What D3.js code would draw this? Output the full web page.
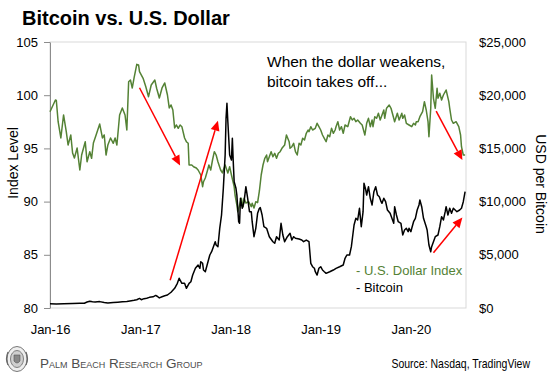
<!DOCTYPE html>
<html lang="en">
<head>
<meta charset="UTF-8">
<title>Bitcoin vs. U.S. Dollar</title>
<style>
    html, body { margin: 0; background: #fff; overflow: hidden; }
    svg { display: block; }
    text { font-family: "Liberation Sans", Arial, sans-serif; }
</style>
<script src="https://d3js.org/d3.v7.min.js"></script>
</head>
<body>
<svg id="svg"></svg>
<script>
// U.S. Dollar Index (decimal year, index level)
const dxyYears = [
    2016.00, 2016.06, 2016.07, 2016.09, 2016.12, 2016.15, 2016.18, 2016.20, 2016.23, 2016.25, 2016.27, 2016.30,
    2016.33, 2016.35, 2016.39, 2016.41, 2016.44, 2016.46, 2016.48, 2016.51, 2016.55, 2016.58, 2016.60, 2016.62,
    2016.64, 2016.67, 2016.70, 2016.72, 2016.74, 2016.77, 2016.80, 2016.83, 2016.85, 2016.87, 2016.89, 2016.91,
    2016.93, 2016.96, 2016.98, 2016.99, 2017.03, 2017.06, 2017.09, 2017.12, 2017.16, 2017.18, 2017.21, 2017.24,
    2017.27, 2017.30, 2017.32, 2017.34, 2017.36, 2017.38, 2017.40, 2017.42, 2017.44, 2017.46, 2017.49, 2017.51,
    2017.53, 2017.54, 2017.57, 2017.59, 2017.62, 2017.64, 2017.67, 2017.69, 2017.70, 2017.72, 2017.74, 2017.76,
    2017.78, 2017.80, 2017.82, 2017.84, 2017.86, 2017.89, 2017.91, 2017.92, 2017.94, 2017.97, 2017.99, 2018.01,
    2018.04, 2018.05, 2018.07, 2018.08, 2018.10, 2018.12, 2018.14, 2018.15, 2018.17, 2018.20, 2018.23, 2018.24,
    2018.26, 2018.28, 2018.30, 2018.32, 2018.34, 2018.36, 2018.38, 2018.40, 2018.41, 2018.43, 2018.45, 2018.47,
    2018.49, 2018.51, 2018.53, 2018.55, 2018.57, 2018.60, 2018.62, 2018.65, 2018.66, 2018.68, 2018.70, 2018.72,
    2018.74, 2018.76, 2018.78, 2018.80, 2018.82, 2018.84, 2018.86, 2018.87, 2018.89, 2018.91, 2018.94, 2018.96,
    2018.98, 2019.00, 2019.02, 2019.04, 2019.06, 2019.08, 2019.10, 2019.12, 2019.14, 2019.16, 2019.17, 2019.19,
    2019.21, 2019.23, 2019.25, 2019.27, 2019.30, 2019.33, 2019.35, 2019.37, 2019.39, 2019.41, 2019.44, 2019.46,
    2019.48, 2019.49, 2019.51, 2019.53, 2019.55, 2019.57, 2019.58, 2019.60, 2019.62, 2019.64, 2019.66, 2019.68,
    2019.70, 2019.71, 2019.73, 2019.76, 2019.78, 2019.81, 2019.82, 2019.85, 2019.87, 2019.90, 2019.91, 2019.93,
    2019.95, 2019.98, 2020.01, 2020.03, 2020.05, 2020.06, 2020.08, 2020.10, 2020.13, 2020.15, 2020.17, 2020.19,
    2020.20, 2020.22, 2020.23, 2020.25, 2020.27, 2020.29, 2020.30, 2020.32, 2020.34, 2020.36, 2020.39, 2020.42,
    2020.43, 2020.45, 2020.47, 2020.50, 2020.53, 2020.55, 2020.56, 2020.58, 2020.60
];
const dxyValues = [
    98.45, 99.55, 99.50, 97.51, 95.98, 98.14, 96.57, 95.32, 96.26, 94.57, 94.10, 95.04,
    92.97, 94.38, 95.63, 93.75, 94.69, 94.07, 95.51, 96.26, 97.29, 95.98, 96.26, 94.38,
    95.32, 95.98, 95.48, 95.98, 95.32, 98.14, 98.80, 98.14, 96.73, 101.27, 101.43, 100.68,
    101.62, 102.90, 102.84, 102.21, 101.59, 100.80, 99.86, 100.96, 101.43, 100.65, 99.74, 100.68,
    101.15, 100.02, 98.80, 99.08, 98.61, 96.92, 97.20, 96.89, 97.20, 97.04, 95.98, 95.63,
    95.48, 93.44, 93.44, 93.28, 93.16, 92.97, 92.50, 91.40, 91.87, 92.22, 92.81, 93.44,
    92.97, 93.91, 94.69, 94.38, 93.75, 92.97, 92.69, 92.97, 93.44, 92.69, 93.28, 92.50,
    91.40, 90.62, 89.68, 89.05, 89.68, 90.31, 89.52, 90.31, 89.87, 89.99, 89.52, 89.84,
    89.40, 89.99, 89.90, 91.00, 92.50, 93.44, 94.07, 94.38, 93.75, 94.22, 94.69, 94.22,
    94.54, 94.07, 94.54, 94.69, 95.01, 95.32, 96.26, 95.63, 95.01, 95.16, 95.48, 94.69,
    94.38, 95.48, 95.32, 95.95, 95.79, 96.42, 96.73, 96.57, 97.04, 96.73, 96.89, 97.36,
    97.04, 96.73, 96.26, 95.95, 95.63, 96.26, 96.10, 96.89, 96.42, 96.73, 97.04, 97.51,
    96.73, 97.04, 96.42, 97.20, 97.04, 97.98, 97.67, 97.83, 97.51, 97.67, 97.36, 97.20,
    96.57, 96.26, 97.36, 97.83, 97.04, 97.67, 97.04, 97.98, 97.83, 98.30, 97.67, 98.14,
    98.61, 97.83, 98.77, 99.08, 98.77, 97.83, 97.51, 98.30, 97.67, 98.30, 97.83, 98.14,
    97.36, 97.20, 97.04, 97.36, 97.20, 97.51, 97.51, 97.98, 98.45, 99.39, 98.61, 97.51,
    96.10, 98.77, 101.90, 99.71, 98.77, 100.65, 99.71, 100.18, 99.55, 100.02, 100.49, 99.39,
    98.77, 97.67, 97.36, 97.51, 97.04, 96.26, 95.16, 94.38, 94.38
];

// Bitcoin price in USD (decimal year, price)
const btcYears = [
    2016.00, 2016.07, 2016.15, 2016.25, 2016.33, 2016.38, 2016.41, 2016.44, 2016.47, 2016.50, 2016.55, 2016.60,
    2016.64, 2016.70, 2016.75, 2016.80, 2016.85, 2016.90, 2016.93, 2016.96, 2016.99, 2017.01, 2017.04, 2017.07,
    2017.10, 2017.14, 2017.17, 2017.19, 2017.21, 2017.24, 2017.27, 2017.30, 2017.34, 2017.38, 2017.41, 2017.43,
    2017.46, 2017.49, 2017.51, 2017.54, 2017.56, 2017.58, 2017.61, 2017.64, 2017.66, 2017.67, 2017.69, 2017.70,
    2017.72, 2017.74, 2017.77, 2017.79, 2017.81, 2017.83, 2017.84, 2017.86, 2017.88, 2017.90, 2017.92, 2017.94,
    2017.95, 2017.96, 2017.97, 2017.99, 2018.01, 2018.02, 2018.03, 2018.04, 2018.06, 2018.07, 2018.09, 2018.10,
    2018.11, 2018.13, 2018.15, 2018.17, 2018.19, 2018.21, 2018.23, 2018.24, 2018.26, 2018.28, 2018.30, 2018.32,
    2018.33, 2018.35, 2018.37, 2018.40, 2018.43, 2018.47, 2018.49, 2018.51, 2018.54, 2018.56, 2018.58, 2018.60,
    2018.63, 2018.66, 2018.68, 2018.70, 2018.72, 2018.76, 2018.79, 2018.81, 2018.84, 2018.87, 2018.89, 2018.91,
    2018.93, 2018.94, 2018.96, 2018.98, 2019.00, 2019.02, 2019.04, 2019.06, 2019.10, 2019.14, 2019.17, 2019.21,
    2019.25, 2019.27, 2019.29, 2019.32, 2019.34, 2019.37, 2019.39, 2019.41, 2019.43, 2019.45, 2019.47, 2019.48,
    2019.50, 2019.51, 2019.53, 2019.55, 2019.57, 2019.59, 2019.61, 2019.63, 2019.65, 2019.67, 2019.68, 2019.70,
    2019.72, 2019.74, 2019.77, 2019.81, 2019.82, 2019.84, 2019.86, 2019.89, 2019.91, 2019.93, 2019.95, 2019.97,
    2019.98, 2020.00, 2020.01, 2020.03, 2020.05, 2020.07, 2020.09, 2020.10, 2020.12, 2020.14, 2020.17, 2020.18,
    2020.20, 2020.22, 2020.23, 2020.25, 2020.27, 2020.30, 2020.32, 2020.34, 2020.36, 2020.38, 2020.39, 2020.41,
    2020.43, 2020.45, 2020.47, 2020.49, 2020.51, 2020.54, 2020.56, 2020.58, 2020.60
];
const btcValues = [
    400, 380, 410, 420, 440, 450, 560, 640, 590, 560, 600, 520,
    480, 520, 550, 580, 610, 680, 720, 780, 900, 780, 880, 920,
    1000, 1050, 1180, 1080, 950, 1060, 1150, 1220, 1480, 1850, 2320, 2790,
    2320, 2320, 1850, 2320, 2470, 3100, 3730, 4040, 3730, 4350, 4200, 3570,
    3410, 4040, 4980, 5290, 5760, 6230, 5920, 5760, 7490, 8740, 11250, 14380,
    17830, 19240, 17510, 14380, 13910, 15950, 13750, 11870, 11250, 10620, 8110, 7960,
    10310, 9370, 9990, 11400, 10310, 9050, 9050, 8110, 6700, 7490, 8900, 9370,
    9430, 8740, 7640, 7490, 6700, 6230, 6080, 6700, 6390, 7960, 6860, 6230,
    6700, 7020, 6390, 6700, 6550, 6480, 6390, 6230, 6390, 6230, 4200, 3880,
    3730, 3410, 3100, 3730, 3880, 3570, 3410, 3260, 3410, 3570, 3730, 3880,
    4040, 4670, 4980, 4980, 5760, 7800, 8430, 8270, 9370, 7640, 9050, 11720,
    11090, 10620, 11400, 10310, 9680, 10930, 11400, 10620, 10460, 9990, 9840, 10310,
    9990, 9210, 8900, 7960, 9520, 8740, 8110, 7960, 6860, 7330, 7490, 7170,
    7490, 7170, 7490, 8110, 8430, 9210, 9680, 10150, 9520, 8430, 7640, 7330,
    5920, 5290, 5760, 6230, 6700, 6860, 7640, 8580, 8270, 9050, 9520, 8740,
    9370, 8900, 9370, 9210, 9050, 9210, 9370, 9990, 10930
];

const leftTicks = [80, 85, 90, 95, 100, 105];
const rightTicks = [0, 5000, 10000, 15000, 20000, 25000];
const xTickYears = [2016, 2017, 2018, 2019, 2020];

// red arrows, [decimal year, index level]
const arrowFrom = [[2016.99, 100.7], [2017.33, 82.6], [2020.28, 98.5], [2020.25, 85.2]];
const arrowTo = [[2017.44, 93.4], [2017.86, 97.6], [2020.57, 93.9], [2020.57, 88.5]];

const width = 560, height = 377;
const margin = { top: 42, left: 50, right: 94, bottom: 69 };
const innerWidth = width - margin.left - margin.right;
const innerHeight = height - margin.top - margin.bottom;
const green = '#548235';

const toDate = y => {
    const yr = Math.floor(y);
    const a = new Date(yr, 0, 1), b = new Date(yr + 1, 0, 1);
    return new Date(+a + (y - yr) * (b - a));
};

const svg = d3.select('#svg').attr('width', width).attr('height', height);
const g = svg.append('g').attr('transform', `translate(${margin.left},${margin.top})`);

const xScale = d3.scaleTime().domain([toDate(2016), toDate(2020.61)]).range([0, innerWidth]);
const yLeft = d3.scaleLinear().domain([80, 105]).range([innerHeight, 0]);
const yRight = d3.scaleLinear().domain([0, 25000]).range([innerHeight, 0]);

// plot frame
g.append('rect').attr('width', innerWidth).attr('height', innerHeight)
    .attr('fill', 'none').attr('stroke', '#d9d9d9').attr('stroke-width', 1);

const yAxisL = g.append('g').call(d3.axisLeft(yLeft).tickValues(leftTicks).tickSize(6).tickSizeOuter(0).tickPadding(6));
yAxisL.select('.domain').attr('stroke', '#8c8c8c');
yAxisL.selectAll('.tick line').attr('stroke', '#8c8c8c');

const yAxisR = g.append('g').attr('transform', `translate(${innerWidth},0)`)
    .call(d3.axisRight(yRight).tickValues(rightTicks).tickSize(0).tickPadding(13).tickFormat(d => '$' + d3.format(',')(d)));
yAxisR.select('.domain').remove();

const xAxis = g.append('g').attr('transform', `translate(0,${innerHeight})`)
    .call(d3.axisBottom(xScale).tickValues(xTickYears.map(d => toDate(d))).tickSize(0).tickPadding(17)
        .tickFormat(d3.timeFormat('%b-%y')));
xAxis.select('.domain').remove();

svg.selectAll('.tick text').attr('font-size', 13).attr('font-family', '"Liberation Sans", Arial, sans-serif').attr('fill', '#000');

// lines
const dxy = dxyYears.map((y, i) => [y, dxyValues[i]]);
const btc = btcYears.map((y, i) => [y, btcValues[i]]);

g.append('path').datum(dxy).attr('fill', 'none').attr('stroke', green).attr('stroke-width', 1.5)
    .attr('stroke-linejoin', 'round')
    .attr('d', d3.line().x(d => xScale(toDate(d[0]))).y(d => yLeft(d[1])));

g.append('path').datum(btc).attr('fill', 'none').attr('stroke', '#000').attr('stroke-width', 1.5)
    .attr('stroke-linejoin', 'round')
    .attr('d', d3.line().x(d => xScale(toDate(d[0]))).y(d => yRight(d[1])));

// arrows
arrowFrom.forEach((f, i) => {
    const t = arrowTo[i];
    const x1 = xScale(toDate(f[0])), y1 = yLeft(f[1]);
    const x2 = xScale(toDate(t[0])), y2 = yLeft(t[1]);
    const ang = Math.atan2(y2 - y1, x2 - x1);
    const hl = 10, hw = 4.5;
    const bx = x2 - hl * Math.cos(ang), by = y2 - hl * Math.sin(ang);
    g.append('line').attr('x1', x1).attr('y1', y1).attr('x2', bx).attr('y2', by)
        .attr('stroke', '#ff0000').attr('stroke-width', 1.5);
    g.append('path')
        .attr('d', `M${x2},${y2}L${bx + hw * Math.sin(ang)},${by - hw * Math.cos(ang)}L${bx - hw * Math.sin(ang)},${by + hw * Math.cos(ang)}Z`)
        .attr('fill', '#ff0000');
});

// title
svg.append('text').attr('x', 22).attr('y', 25).attr('font-size', 20).attr('font-weight', 'bold')
    .text('Bitcoin vs. U.S. Dollar');

// axis titles
svg.append('text').attr('transform', 'translate(18,163) rotate(-90)').attr('text-anchor', 'middle')
    .attr('font-size', 14).text('Index Level');
svg.append('text').attr('transform', 'translate(536,184) rotate(90)').attr('text-anchor', 'middle')
    .attr('font-size', 14).text('USD per Bitcoin');

// annotation
const note = svg.append('text').attr('x', 267).attr('y', 67).attr('font-size', 15.5);
note.append('tspan').attr('x', 267).text('When the dollar weakens,');
note.append('tspan').attr('x', 267).attr('dy', 20).text('bitcoin takes off...');

// legend
svg.append('text').attr('x', 356).attr('y', 275).attr('font-size', 13).attr('fill', green).text('- U.S. Dollar Index');
svg.append('text').attr('x', 356).attr('y', 292).attr('font-size', 13).attr('fill', '#000').text('- Bitcoin');

// footer
const logo = svg.append('g').attr('transform', 'translate(17,359)');
logo.append('ellipse').attr('rx', 10).attr('ry', 12.5).attr('fill', '#eeeeee').attr('stroke', '#777').attr('stroke-width', 1);
logo.append('ellipse').attr('rx', 6.5).attr('ry', 8.5).attr('fill', '#cfcfcf').attr('stroke', '#666').attr('stroke-width', 0.8);
logo.append('path').attr('d', 'M-3,-4L3,-4L3,2Q0,6,-3,2Z').attr('fill', '#888').attr('stroke', '#555').attr('stroke-width', 0.6);
logo.append('path').attr('d', 'M-9,6Q-12,0,-9,-7M9,6Q12,0,9,-7').attr('fill', 'none').attr('stroke', '#666').attr('stroke-width', 1.2);

svg.append('text').attr('x', 40).attr('y', 368).attr('font-size', 13.5)
    .attr('font-family', '"Liberation Serif", "DejaVu Serif", serif').attr('font-variant', 'small-caps')
    .attr('fill', '#4d4d4d').text('Palm Beach Research Group');

// condensed source line, squeezed horizontally like the original narrow face
svg.append('text').attr('transform', 'translate(530,368) scale(0.84,1)').attr('text-anchor', 'end').attr('font-size', 12.5)
    .text('Source: Nasdaq, TradingView');
</script>
</body>
</html>
